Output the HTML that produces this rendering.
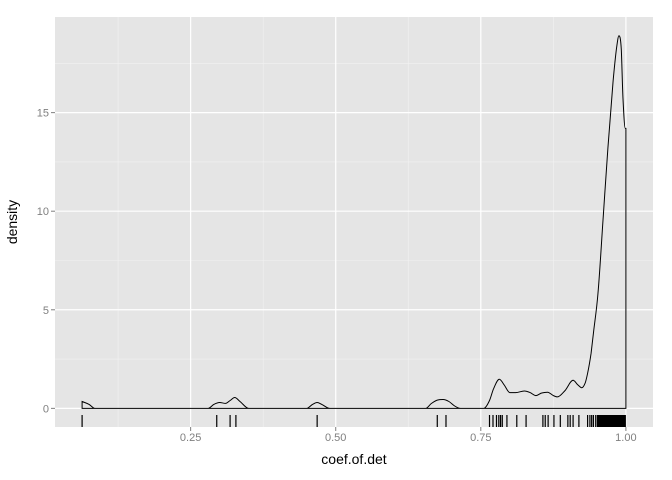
<!DOCTYPE html>
<html><head><meta charset="utf-8"><style>
html,body{margin:0;padding:0;background:#fff;}
svg{display:block;font-family:"Liberation Sans",sans-serif;}
</style></head><body>
<svg id="chart" width="672" height="480"></svg>
<script>
const xTicks=[0.25,0.5,0.75,1.0];
const xTickLabels=["0.25","0.50","0.75","1.00"];
const yTicks=[0,5,10,15];
const yTickLabels=["0","5","10","15"];
const densX=[0.063,0.075,0.085,0.28,0.29,0.30,0.31,0.318,0.326,0.335,0.35,0.45,0.46,0.468,0.476,0.49,0.655,0.665,0.675,0.685,0.695,0.705,0.715,0.755,0.765,0.772,0.782,0.79,0.8,0.81,0.825,0.835,0.845,0.855,0.865,0.875,0.882,0.895,0.909,0.917,0.924,0.93,0.934,0.94,0.944,0.952,0.961,0.969,0.978,0.984,0.988,0.992,0.995,0.999,1.0];
const densY=[0.35,0.2,0,0,0.2,0.3,0.25,0.4,0.55,0.35,0,0,0.2,0.3,0.2,0,0,0.25,0.42,0.45,0.35,0.12,0,0,0.4,1.0,1.48,1.2,0.8,0.8,0.88,0.8,0.65,0.78,0.82,0.65,0.58,0.9,1.43,1.2,1.05,1.3,1.78,2.8,3.8,5.85,9.76,13.2,16.6,18.3,18.9,18.2,15.7,14.2,14.2];
const rugX=[0.063,0.295,0.318,0.328,0.468,0.675,0.69,0.765,0.771,0.777,0.781,0.784,0.787,0.795,0.812,0.828,0.857,0.861,0.866,0.876,0.887,0.9,0.904,0.909,0.919,0.934,0.938,0.941,0.944,0.948,0.951,0.952,0.953,0.954,0.955,0.956,0.957,0.958,0.959,0.960,0.961,0.962,0.963,0.964,0.965,0.966,0.967,0.968,0.969,0.970,0.971,0.972,0.973,0.974,0.975,0.976,0.977,0.978,0.979,0.980,0.981,0.982,0.983,0.984,0.985,0.986,0.987,0.988,0.989,0.990,0.991,0.992,0.993,0.994,0.995,0.996,0.997,0.998,0.999];
const NS='http://www.w3.org/2000/svg';
const svg=document.getElementById('chart');
const P={l:55,r:653,t:17,b:427};
const xMin=0.0163,xMax=1.0467,yMin=-0.945,yMax=19.85;
function sx(v){return P.l+(v-xMin)/(xMax-xMin)*(P.r-P.l);}
function sy(v){return P.b-(v-yMin)/(yMax-yMin)*(P.b-P.t);}
function mk(tag,attrs,parent){const e=document.createElementNS(NS,tag);for(const k in attrs)e.setAttribute(k,attrs[k]);(parent||svg).appendChild(e);return e;}
const bg=mk('rect',{x:P.l,y:P.t,width:P.r-P.l,height:P.b-P.t,fill:'#e5e5e5'});


const minorX=[0.125,0.375,0.625,0.875],minorY=[2.5,7.5,12.5,17.5];
minorX.forEach(v=>{const l=mk('line',{x1:sx(v),x2:sx(v),y1:P.t,y2:P.b,stroke:'#f2f2f2','stroke-width':0.6});

});
minorY.forEach(v=>{const l=mk('line',{x1:P.l,x2:P.r,y1:sy(v),y2:sy(v),stroke:'#f2f2f2','stroke-width':0.6});

});
xTicks.forEach((v,i)=>{
const g=mk('line',{x1:sx(v),x2:sx(v),y1:P.t,y2:P.b,stroke:'#fff','stroke-width':1.2});


const t=mk('line',{x1:sx(v),x2:sx(v),y1:P.b,y2:P.b+4,stroke:'#7f7f7f'});


const tx=mk('text',{x:sx(v),y:P.b+14,'text-anchor':'middle','font-size':11,fill:'#7f7f7f'});
tx.textContent=xTickLabels[i];


});
yTicks.forEach((v,i)=>{
const g=mk('line',{x1:P.l,x2:P.r,y1:sy(v),y2:sy(v),stroke:'#fff','stroke-width':1.2});


const t=mk('line',{x1:P.l-4,x2:P.l,y1:sy(v),y2:sy(v),stroke:'#7f7f7f'});


const tx=mk('text',{x:P.l-6,y:sy(v)+4,'text-anchor':'end','font-size':11,fill:'#7f7f7f'});
tx.textContent=yTickLabels[i];


});
// monotone cubic interpolation (Fritsch-Carlson) in pixel space
const px=densX.map(sx), py=densY.map(sy);
const n=px.length, sl=[], m=[];
for(let i=0;i<n-1;i++){const dx=px[i+1]-px[i];sl.push(dx>0?(py[i+1]-py[i])/dx:0);}
for(let i=0;i<n;i++){
 if(i===0)m.push(sl[0]);else if(i===n-1)m.push(sl[n-2]);
 else m.push(sl[i-1]*sl[i]<=0?0:(sl[i-1]+sl[i])/2);
}
for(let i=0;i<n-1;i++){
 if(sl[i]===0){m[i]=0;m[i+1]=0;continue;}
 const a=m[i]/sl[i],b=m[i+1]/sl[i],s=a*a+b*b;
 if(s>9){const t=3/Math.sqrt(s);m[i]=t*a*sl[i];m[i+1]=t*b*sl[i];}
}
let d='M'+px[0].toFixed(1)+','+sy(0).toFixed(1)+' L'+px[0].toFixed(1)+','+py[0].toFixed(1);
for(let i=0;i<n-1;i++){
 const h=(px[i+1]-px[i])/3;
 d+=' C'+(px[i]+h).toFixed(1)+','+(py[i]+m[i]*h).toFixed(1)+' '+(px[i+1]-h).toFixed(1)+','+(py[i+1]-m[i+1]*h).toFixed(1)+' '+px[i+1].toFixed(1)+','+py[i+1].toFixed(1);
}
d+=' L'+px[n-1].toFixed(1)+','+sy(0).toFixed(1)+' Z';
const curve=mk('path',{d:d,fill:'none',stroke:'#000','stroke-width':1});


rugX.forEach(v=>{const l=mk('line',{x1:sx(v),x2:sx(v),y1:415,y2:427,stroke:'#000','stroke-width':1.2});

});
const xt=mk('text',{x:(P.l+P.r)/2,y:464,'text-anchor':'middle','font-size':14,fill:'#000'});
xt.textContent='coef.of.det';


const yt=mk('text',{x:0,y:0,'text-anchor':'middle','font-size':14,fill:'#000',transform:'translate(17,'+((P.t+P.b)/2)+') rotate(-90)'});
yt.textContent='density';


</script>
</body></html>
